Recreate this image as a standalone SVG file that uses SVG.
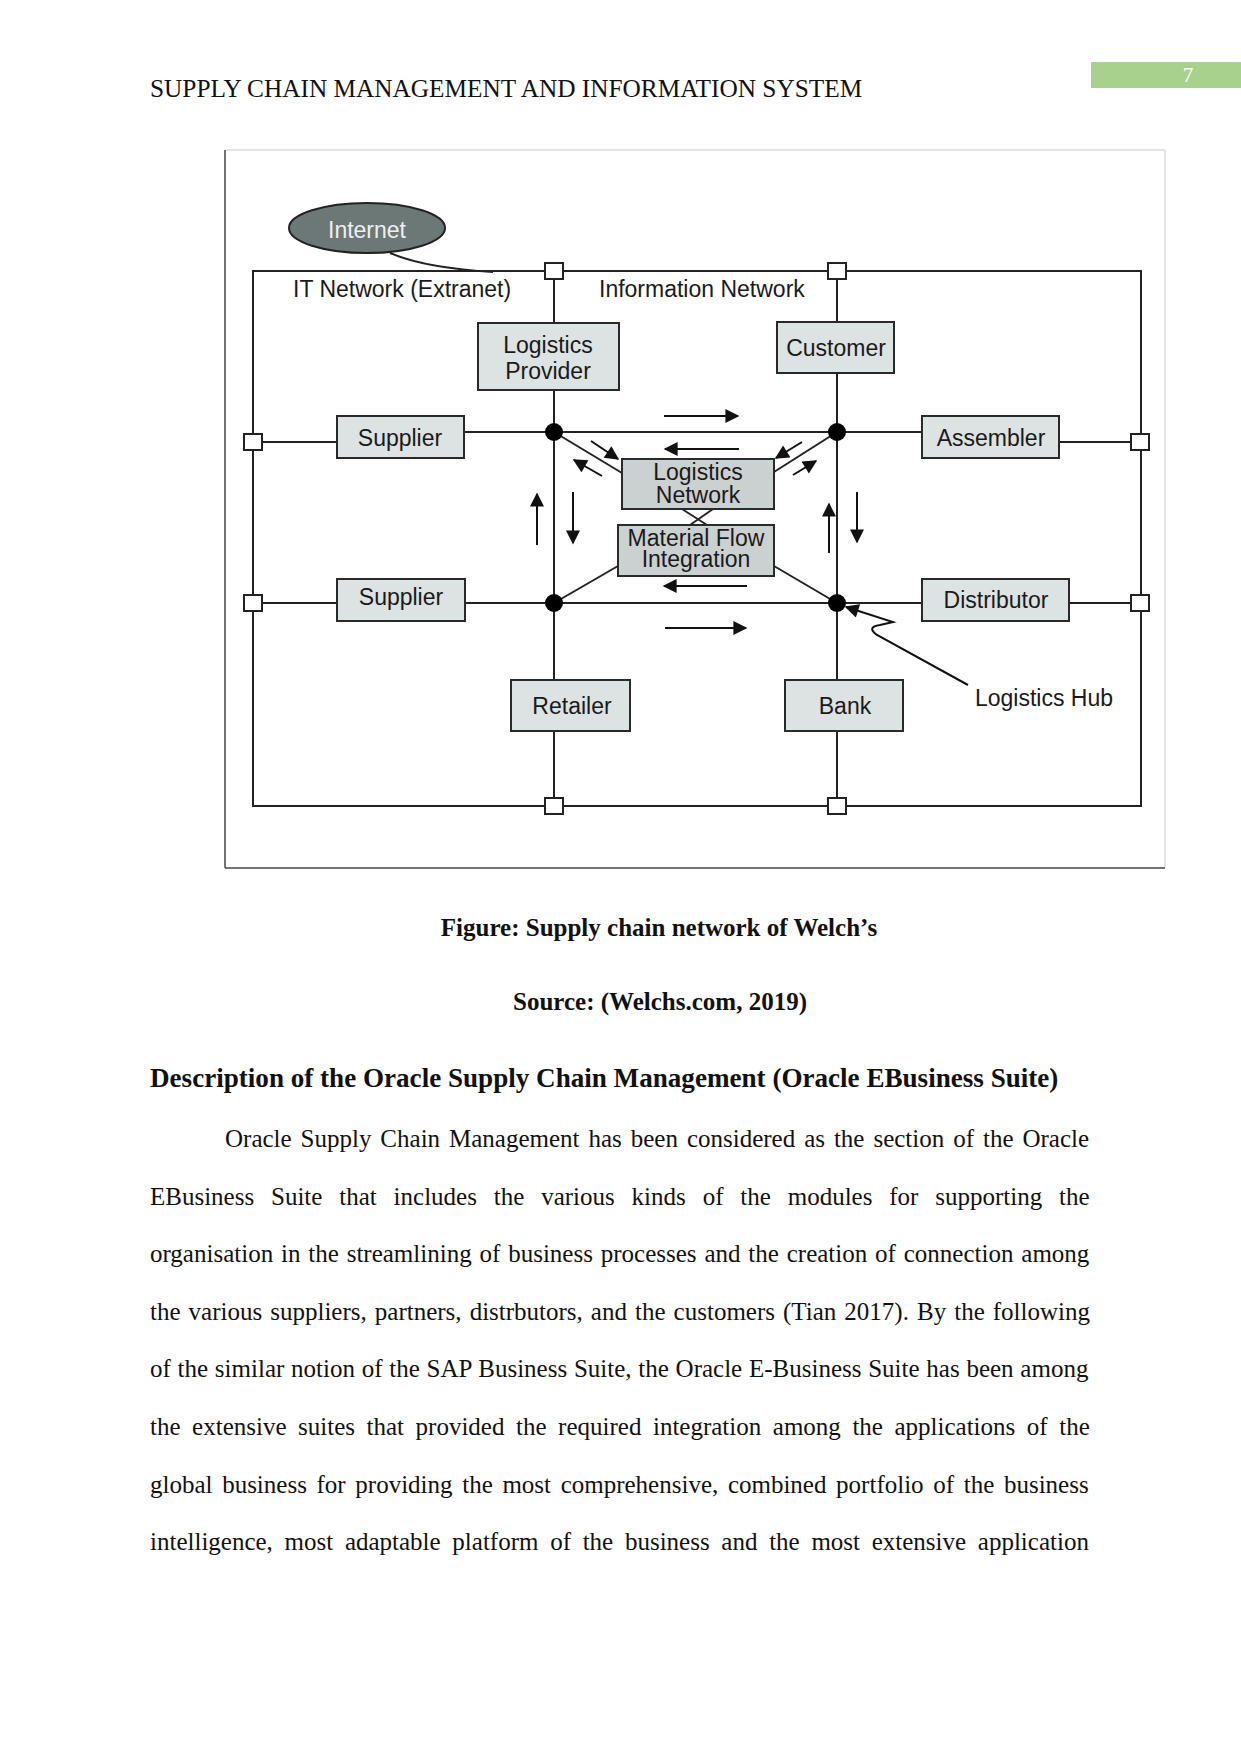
<svg xmlns="http://www.w3.org/2000/svg" width="1241" height="1754" viewBox="0 0 1241 1754">
<style>
.box{fill:#dde2e3;stroke:#2a2a2a;stroke-width:2}
.box2{fill:#cbd0d0;stroke:#2a2a2a;stroke-width:2}
.lbl{font-family:"Liberation Sans",Arial,sans-serif;font-size:23px;fill:#1a1a1a;text-anchor:middle}
.lbs{font-family:"Liberation Sans",Arial,sans-serif;font-size:23px;fill:#1a1a1a}
.ln{stroke:#222;stroke-width:2;fill:none}
.arr{stroke:#111;stroke-width:2;fill:none;marker-end:url(#ah)}
.sq{fill:#fff;stroke:#222;stroke-width:2}
.dot{fill:#000}
.body{font-family:"Liberation Serif","Times New Roman",serif;font-size:25px;fill:#111}
.bold{font-family:"Liberation Serif","Times New Roman",serif;font-weight:bold;fill:#111}
</style>
<defs>
<marker id="ah" viewBox="0 0 10 10" refX="9" refY="5" markerWidth="15" markerHeight="14" markerUnits="userSpaceOnUse" orient="auto">
<path d="M0,0 L10,5 L0,10 z" fill="#111"/>
</marker>
</defs>
<rect width="1241" height="1754" fill="#fff"/>

<!-- page header -->
<text class="body" x="150" y="97" style="font-size:25.3px">SUPPLY CHAIN MANAGEMENT AND INFORMATION SYSTEM</text>
<rect x="1091" y="62" width="150" height="26" fill="#a9d18e"/>
<text x="1188" y="82" font-family="'Liberation Serif','Times New Roman',serif" font-size="21" fill="#fff" text-anchor="middle">7</text>

<!-- figure frame -->
<g id="frame">
<line x1="225" y1="150" x2="1165" y2="150" stroke="#dcdcdc" stroke-width="1.5"/>
<line x1="1165" y1="150" x2="1165" y2="868" stroke="#dcdcdc" stroke-width="1.5"/>
<line x1="225" y1="150" x2="225" y2="868" stroke="#444" stroke-width="1.5"/>
<line x1="225" y1="868" x2="1165" y2="868" stroke="#444" stroke-width="1.5"/>
</g>

<!-- connectors -->
<g id="connectors">
<rect class="ln" x="253" y="271" width="888" height="535"/>
<path class="ln" d="M390 253 Q425 268 493 272"/>
<!-- verticals -->
<line class="ln" x1="554" y1="271" x2="554" y2="323"/>
<line class="ln" x1="554" y1="390" x2="554" y2="680"/>
<line class="ln" x1="554" y1="731" x2="554" y2="806"/>
<line class="ln" x1="837" y1="271" x2="837" y2="322"/>
<line class="ln" x1="837" y1="373" x2="837" y2="680"/>
<line class="ln" x1="837" y1="731" x2="837" y2="806"/>
<!-- horizontals -->
<line class="ln" x1="464" y1="432" x2="922" y2="432"/>
<line class="ln" x1="465" y1="603" x2="922" y2="603"/>
<line class="ln" x1="253" y1="442" x2="337" y2="442"/>
<line class="ln" x1="253" y1="603" x2="337" y2="603"/>
<line class="ln" x1="1059" y1="442" x2="1141" y2="442"/>
<line class="ln" x1="1069" y1="603" x2="1141" y2="603"/>
<!-- diagonals -->
<line class="ln" x1="554" y1="432" x2="622" y2="473"/>
<line class="ln" x1="774" y1="472" x2="837" y2="432"/>
<line class="ln" x1="618" y1="566" x2="554" y2="603"/>
<line class="ln" x1="774" y1="566" x2="837" y2="603"/>
<line class="ln" x1="682" y1="509" x2="707" y2="525"/>
<line class="ln" x1="713" y1="509" x2="690" y2="525"/>
<!-- flow arrows -->
<line class="arr" x1="664" y1="416" x2="738" y2="416"/>
<line class="arr" x1="739" y1="449" x2="665" y2="449"/>
<line class="arr" x1="747" y1="586" x2="664" y2="586"/>
<line class="arr" x1="665" y1="628" x2="746" y2="628"/>
<line class="arr" x1="537" y1="545" x2="537" y2="494"/>
<line class="arr" x1="573" y1="492" x2="573" y2="543"/>
<line class="arr" x1="829" y1="553" x2="829" y2="504"/>
<line class="arr" x1="857" y1="492" x2="857" y2="542"/>
<line class="arr" x1="591" y1="441" x2="618" y2="459"/>
<line class="arr" x1="602" y1="476" x2="574" y2="460"/>
<line class="arr" x1="802" y1="442" x2="776" y2="458"/>
<line class="arr" x1="793" y1="475" x2="816" y2="461"/>
<!-- logistics hub leader -->
<path class="arr" d="M968 685 L877 635 Q866 627 880 625 L893 622 L846 607"/>
<!-- junctions -->
<circle class="dot" cx="554" cy="432" r="9"/>
<circle class="dot" cx="837" cy="432" r="9"/>
<circle class="dot" cx="554" cy="603" r="9"/>
<circle class="dot" cx="837" cy="603" r="9"/>
<!-- ports -->
<rect class="sq" x="545" y="263" width="18" height="16"/>
<rect class="sq" x="828" y="263" width="18" height="16"/>
<rect class="sq" x="244" y="434" width="18" height="16"/>
<rect class="sq" x="244" y="595" width="18" height="16"/>
<rect class="sq" x="1131" y="434" width="18" height="16"/>
<rect class="sq" x="1131" y="595" width="18" height="16"/>
<rect class="sq" x="545" y="798" width="18" height="16"/>
<rect class="sq" x="828" y="798" width="18" height="16"/>
</g>

<g id="internet">
<ellipse cx="367" cy="228" rx="78" ry="25" fill="#6c7876" stroke="#222" stroke-width="2"/>
<text class="lbl" x="367" y="238" style="fill:#eef0ef">Internet</text>
</g>
<g id="it-network"><text class="lbs" x="293" y="297">IT Network (Extranet)</text></g>
<g id="information-network"><text class="lbs" x="599" y="297">Information Network</text></g>

<g id="logistics-provider">
<rect class="box" x="478" y="323" width="141" height="67"/>
<text class="lbl" x="548" y="353">Logistics</text>
<text class="lbl" x="548" y="379">Provider</text>
</g>
<g id="customer">
<rect class="box" x="777" y="322" width="117" height="51"/>
<text class="lbl" x="836" y="356">Customer</text>
</g>
<g id="supplier-1">
<rect class="box" x="337" y="416" width="127" height="42"/>
<text class="lbl" x="400" y="446">Supplier</text>
</g>
<g id="supplier-2">
<rect class="box" x="337" y="579" width="128" height="42"/>
<text class="lbl" x="401" y="605">Supplier</text>
</g>
<g id="assembler">
<rect class="box" x="922" y="416" width="137" height="42"/>
<text class="lbl" x="991" y="446">Assembler</text>
</g>
<g id="distributor">
<rect class="box" x="922" y="579" width="147" height="42"/>
<text class="lbl" x="996" y="608">Distributor</text>
</g>
<g id="logistics-network">
<rect class="box2" x="622" y="459" width="152" height="50"/>
<text class="lbl" x="698" y="480">Logistics</text>
<text class="lbl" x="698" y="503">Network</text>
</g>
<g id="material-flow">
<rect class="box2" x="618" y="525" width="156" height="51"/>
<text class="lbl" x="696" y="546">Material Flow</text>
<text class="lbl" x="696" y="567">Integration</text>
</g>
<g id="retailer">
<rect class="box" x="511" y="680" width="119" height="51"/>
<text class="lbl" x="572" y="714">Retailer</text>
</g>
<g id="bank">
<rect class="box" x="785" y="680" width="118" height="51"/>
<text class="lbl" x="845" y="714">Bank</text>
</g>
<g id="logistics-hub"><text class="lbs" x="975" y="706">Logistics Hub</text></g>

<!-- captions -->
<text class="bold" x="659" y="936" font-size="25" text-anchor="middle">Figure: Supply chain network of Welch’s</text>
<text class="bold" x="660" y="1010" font-size="25" text-anchor="middle">Source: (Welchs.com, 2019)</text>
<text class="bold" x="150" y="1087" font-size="27.1">Description of the Oracle Supply Chain Management (Oracle EBusiness Suite)</text>

<!-- body -->
<text class="body" x="225" y="1147" word-spacing="2.7">Oracle Supply Chain Management has been considered as the section of the Oracle</text>
<text class="body" x="150" y="1205" word-spacing="10.6">EBusiness Suite that includes the various kinds of the modules for supporting the</text>
<text class="body" x="150" y="1262" word-spacing="1.6">organisation in the streamlining of business processes and the creation of connection among</text>
<text class="body" x="150" y="1320" word-spacing="1.8">the various suppliers, partners, distrbutors, and the customers (Tian 2017). By the following</text>
<text class="body" x="150" y="1377" word-spacing="0.5">of the similar notion of the SAP Business Suite, the Oracle E-Business Suite has been among</text>
<text class="body" x="150" y="1435" word-spacing="5.3">the extensive suites that provided the required integration among the applications of the</text>
<text class="body" x="150" y="1493" word-spacing="3.4">global business for providing the most comprehensive, combined portfolio of the business</text>
<text class="body" x="150" y="1550" word-spacing="5.45">intelligence, most adaptable platform of the business and the most extensive application</text>
</svg>
